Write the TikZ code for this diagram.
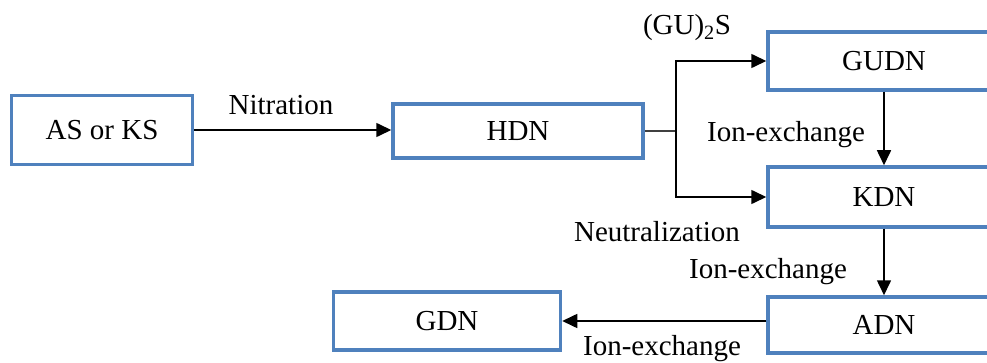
\documentclass[tikz,border=0pt]{standalone}
\usepackage{fontspec}
\setmainfont{Liberation Serif}
\usetikzlibrary{positioning, arrows.meta}
\definecolor{boxblue}{RGB}{79,129,189}

\begin{document}
\begin{tikzpicture}[x=1pt, y=-1pt, font=\fontsize{29}{34}\selectfont,
  main node/.style={rectangle,draw=boxblue,line width=3.5pt,inner sep=0pt},
  flow/.style={line width=1.6pt,-{Triangle[length=15pt,width=14pt]}}]

\useasboundingbox (0,0) rectangle (987,363);
\clip (0,0) rectangle (987,363);

\node[main node, minimum width=181pt, minimum height=69pt] (AS) at (102,130) {AS or KS};
\node[main node, minimum width=250pt, minimum height=54pt] (HDN) at (518,131) {HDN};
\node[main node, minimum width=232pt, minimum height=58pt] (GUDN) at (884,61) {GUDN};
\node[main node, minimum width=232pt, minimum height=60pt] (KDN) at (884,197) {KDN};
\node[main node, minimum width=232pt, minimum height=56pt] (ADN) at (884,325) {ADN};
\node[main node, minimum width=227pt, minimum height=58pt] (GDN) at (447,321) {GDN};

\coordinate[right=31pt of HDN.east] (split);

\draw[flow] (AS.east) -- (AS.east -| HDN.west);
\draw[line width=1.2pt, black!75] (HDN.east) -- (split);
\draw[flow] (split) |- (GUDN.west);
\draw[flow] (split) |- (KDN.west);
\draw[flow] (GUDN) -- (KDN);
\draw[flow] (KDN) -- (ADN);
\draw[flow] (ADN.west |- GDN.east) -- (GDN.east);

% labels
\node[anchor=base] (nitration) at (281,115) {Nitration};
\node[anchor=base] (gus) at (687,35) {(GU)\textsubscript{2}S};
\node[anchor=base] (ionA) at (786,142) {Ion-exchange};
\node[anchor=base] (neutral) at (657,241) {Neutralization};
\node[anchor=base] (ionB) at (768,278) {Ion-exchange};
\node[anchor=base] (ionC) at (662,355) {Ion-exchange};

\end{tikzpicture}
\end{document}
